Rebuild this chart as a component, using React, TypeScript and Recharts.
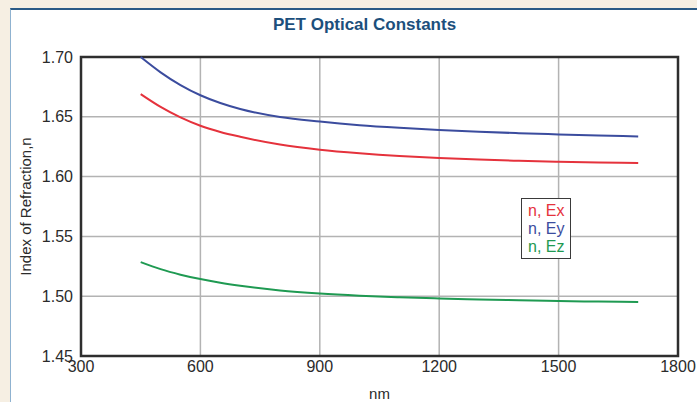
import {
  LineChart,
  Line,
  XAxis,
  YAxis,
  CartesianGrid,
  ReferenceArea,
} from 'recharts';

const wavelengths = [450, 500, 550, 600, 650, 700, 800, 900, 1000, 1100, 1200, 1300, 1400, 1500, 1600, 1700];
const nEx = [1.669, 1.6583, 1.6495, 1.6425, 1.6373, 1.6333, 1.6268, 1.6225, 1.6195, 1.6172, 1.6155, 1.6142, 1.6132, 1.6124, 1.6118, 1.6113];
const nEy = [1.7, 1.6872, 1.6765, 1.668, 1.6615, 1.6565, 1.6498, 1.646, 1.643, 1.6408, 1.639, 1.6375, 1.6363, 1.6353, 1.6344, 1.6336];
const nEz = [1.5285, 1.5226, 1.518, 1.5143, 1.5113, 1.5088, 1.5048, 1.5022, 1.5004, 1.4991, 1.4981, 1.4973, 1.4966, 1.496, 1.4955, 1.4951];
const xTicks = [300, 600, 900, 1200, 1500, 1800];
const yTicks = [1.45, 1.5, 1.55, 1.6, 1.65, 1.7];

const series = [
  { key: 'ex', label: 'n, Ex', color: '#e5323c' },
  { key: 'ey', label: 'n, Ey', color: '#3b4c9e' },
  { key: 'ez', label: 'n, Ez', color: '#1f9a52' },
];

const data = wavelengths.map((nm, i) => ({ nm, ex: nEx[i], ey: nEy[i], ez: nEz[i] }));

const FONT = '"Liberation Sans", Arial, sans-serif';
const tickStyle = { fill: '#2b2b2b', fontSize: 16, fontFamily: FONT };

function YLabel(props: any) {
  const { viewBox } = props;
  const cx = 31;
  const cy = viewBox.y + viewBox.height / 2;
  return (
    <text
      x={cx}
      y={cy}
      transform={`rotate(-90 ${cx} ${cy})`}
      textAnchor="middle"
      fill="#2b2b2b"
      fontSize={15}
      fontFamily={FONT}
    >
      Index of Refraction,n
    </text>
  );
}

export default function App() {
  return (
    <div
      style={{
        position: 'absolute',
        left: 0,
        top: 0,
        width: 697,
        height: 402,
        background: '#f6efe3',
        overflow: 'hidden',
      }}
    >
      <div
        style={{
          position: 'absolute',
          left: 10,
          top: 8,
          width: 687,
          height: 394,
          background: '#ffffff',
          borderTop: '2px solid #2a5a86',
          borderLeft: '1px solid #8fb2d0',
        }}
      />
      <div
        style={{
          position: 'absolute',
          left: 0,
          top: 15,
          width: 729,
          textAlign: 'center',
          color: '#1c4f7c',
          fontFamily: FONT,
          fontWeight: 'bold',
          fontSize: 17,
        }}
      >
        PET Optical Constants
      </div>
      <div style={{ position: 'absolute', left: 0, top: 0 }}>
        <LineChart
          width={697}
          height={402}
          data={data}
          margin={{ top: 57, right: 19, left: 11, bottom: 0 }}
        >
          <CartesianGrid stroke="#b3b3b3" strokeWidth={1.5} />
          <XAxis
            dataKey="nm"
            type="number"
            domain={[300, 1800]}
            ticks={xTicks}
            height={46}
            tick={tickStyle}
            tickLine={false}
            tickSize={0}
            tickMargin={5}
            axisLine={false}
            label={{
              value: 'nm',
              position: 'insideBottom',
              offset: 3,
              fill: '#2b2b2b',
              fontSize: 15,
              fontFamily: FONT,
            }}
          />
          <YAxis
            type="number"
            domain={[1.45, 1.7]}
            ticks={yTicks}
            width={70}
            tick={tickStyle}
            tickLine={false}
            tickSize={0}
            tickMargin={8}
            axisLine={false}
            tickFormatter={(v: number) => v.toFixed(2)}
            label={(p: any) => <YLabel {...p} />}
          />
          {series.map((s) => (
            <Line
              key={s.key}
              type="monotone"
              dataKey={s.key}
              stroke={s.color}
              strokeWidth={2}
              dot={false}
              isAnimationActive={false}
            />
          ))}
          <ReferenceArea
            x1={300}
            x2={1800}
            y1={1.45}
            y2={1.7}
            fill="none"
            stroke="#2e2e2e"
            strokeWidth={2.5}
            ifOverflow="visible"
          />
        </LineChart>
      </div>
      <div
        style={{
          position: 'absolute',
          left: 521,
          top: 198,
          width: 50,
          height: 61,
          border: '1.5px solid #3a3a3a',
          background: '#ffffff',
          paddingLeft: 6,
          boxSizing: 'border-box',
          fontFamily: FONT,
          fontSize: 16,
          lineHeight: '18px',
          paddingTop: 3,
        }}
      >
        {series.map((s) => (
          <div key={s.key} style={{ color: s.color, whiteSpace: 'nowrap' }}>
            {s.label}
          </div>
        ))}
      </div>
    </div>
  );
}
